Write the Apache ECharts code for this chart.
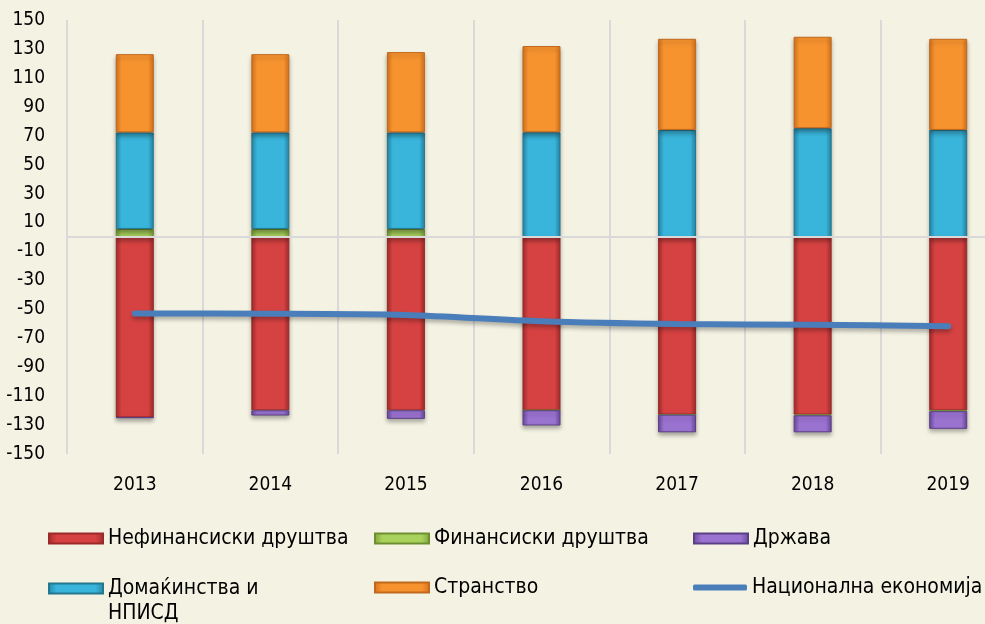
<!DOCTYPE html>
<html>
<head>
<meta charset="utf-8">
<script src="https://cdn.jsdelivr.net/npm/echarts@6/dist/echarts.min.js"></script>
<style>
  html, body { margin: 0; padding: 0; background: #F4F2E3; }
  #chart { width: 985px; height: 624px; }
</style>
</head>
<body>
<div id="chart"></div>
<script>
const years = ['2013', '2014', '2015', '2016', '2017', '2018', '2019'];
const nonFinancial = [-124.7, -119.8, -119.8, -119.8, -122.8, -122.8, -119.8];
const financial = [5.5, 5.5, 5.5, 0, 0, -0.5, -0.6];
const government = [-0.3, -3.6, -5.9, -10.5, -12.2, -11.7, -12.2];
const households = [66.8, 66.8, 66.8, 72.4, 74.0, 75.2, 74.0];
const foreign = [54.1, 54.1, 55.5, 59.6, 63.0, 63.2, 63.0];
const national = [-52.9, -53.0, -53.9, -58.3, -60.2, -60.6, -61.7];

const FONT = '"DejaVu Sans Condensed", "Liberation Sans Narrow", "DejaVu Sans", sans-serif';

const chart = echarts.init(document.getElementById('chart'));

function grad(c1, c2) {
  return new echarts.graphic.LinearGradient(0, 0, 1, 0, [
    { offset: 0, color: c2 },
    { offset: 0.15, color: c1 },
    { offset: 0.85, color: c1 },
    { offset: 1, color: c2 },
  ]);
}

function barSeries(name, data, c1, c2, border) {
  return {
    name: name,
    type: 'bar',
    stack: 'total',
    data: data,
    barWidth: 38,
    itemStyle: {
      color: grad(c1, c2),
      borderColor: border,
      borderWidth: 1,
      shadowColor: 'rgba(0,0,0,0.3)',
      shadowBlur: 4,
      shadowOffsetY: 3,
    },
  };
}

function legendAt(name, left, top, extra) {
  return Object.assign({
    data: [name],
    left: left,
    top: top,
    padding: 0,
    itemWidth: 54,
    itemHeight: 10,
    icon: 'rect',
    selectedMode: false,
    textStyle: { fontFamily: FONT, fontSize: 21, color: '#000' },
  }, extra || {});
}

const red = barSeries('Нефинансиски друштва', nonFinancial, '#D64242', '#A52C2C', '#9A2A2A');
red.markLine = {
  silent: true,
  symbol: 'none',
  label: { show: false },
  lineStyle: { color: '#D9D9D9', width: 2, type: 'solid' },
  data: [{ yAxis: 0 }],
};

const option = {
  backgroundColor: '#F4F2E3',
  animation: false,
  grid: { left: 67, top: 20, width: 949, height: 434, containLabel: false, outerBoundsMode: 'none' },
  xAxis: {
    type: 'category',
    data: years,
    axisLine: { show: false },
    axisTick: { show: false },
    axisLabel: { color: '#000', fontFamily: FONT, fontSize: 19, margin: 22 },
    splitLine: { show: true, lineStyle: { color: '#D9D9D9', width: 2 } },
  },
  yAxis: {
    type: 'value',
    min: -150,
    max: 150,
    interval: 10,
    axisLine: { show: false },
    axisTick: { show: false },
    splitLine: { show: false },
    axisLabel: {
      color: '#000',
      fontFamily: FONT,
      fontSize: 19,
      margin: 22,
      formatter: v => ((v + 150) % 20 === 0 ? String(v) : ''),
    },
  },
  legend: [
    legendAt('Нефинансиски друштва', 48, 528),
    legendAt('Финансиски друштва', 374, 528),
    legendAt('Држава', 693, 528),
    legendAt('Домаќинства и НПИСД', 48, 551, {
      formatter: () => '\nДомаќинства и\nНПИСД',
      textStyle: { fontFamily: FONT, fontSize: 21, color: '#000', lineHeight: 25 },
    }),
    legendAt('Странство', 374, 577),
    legendAt('Национална економија', 693, 577, { icon: 'roundRect', itemHeight: 6 }),
  ],
  series: [
    red,
    barSeries('Финансиски друштва', financial, '#A8D25C', '#7FA43A', '#6E8F30'),
    barSeries('Држава', government, '#9A72D0', '#6B4A9C', '#5A3E86'),
    barSeries('Домаќинства и НПИСД', households, '#39B4DA', '#2788A8', '#23778F'),
    barSeries('Странство', foreign, '#F6932F', '#D8741E', '#C0681C'),
    {
      name: 'Национална економија',
      type: 'line',
      data: national,
      smooth: 0.3,
      symbol: 'none',
      z: 5,
      itemStyle: { color: '#4A7EBB' },
      lineStyle: {
        color: '#4A7EBB',
        width: 6,
        cap: 'round',
        shadowColor: 'rgba(0,0,0,0.3)',
        shadowBlur: 4,
        shadowOffsetY: 3,
      },
    },
  ],
};

chart.setOption(option);
</script>
</body>
</html>
